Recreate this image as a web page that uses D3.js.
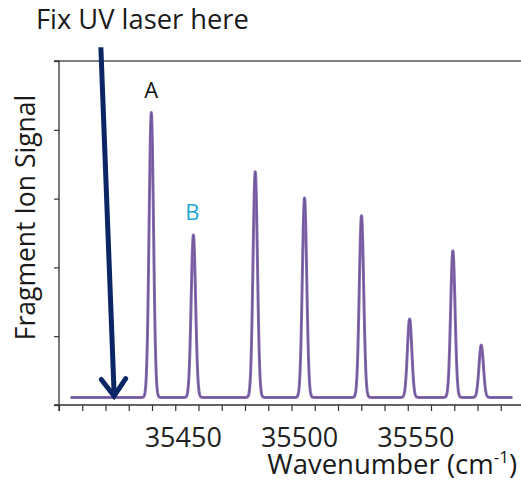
<!DOCTYPE html>
<html>
<head>
<meta charset="utf-8">
<script src="https://cdn.jsdelivr.net/npm/d3@7"></script>
<style>
  html, body { margin: 0; padding: 0; background: #fff; }
  svg { display: block; }
  text { font-family: "Open Sans", "Segoe UI", sans-serif; }
</style>
</head>
<body>
<svg id="chart" width="521" height="483"></svg>
<script>
// ---- data ----
const peakCenters = [35439.7, 35457.8, 35484.4, 35505.6, 35530.1, 35550.8, 35569.4, 35581.6];
const peakHeights = [4.25, 2.47, 3.39, 3.01, 2.75, 1.25, 2.24, 0.87];
const baselineLevel = 0.11;
const peakSigma = 0.95;
const spectrumRange = [35405, 35595];
const xTickLabels = [35450, 35500, 35550];
const yTickValues = [0, 1, 2, 3, 4, 5];
const peakLabels = [{ text: "A", peak: 0, color: "#111" }, { text: "B", peak: 1, color: "#22a6d3" }];
const arrowFrom = [35418.0, 5.2];
const arrowTo = [35423.7, 0.13];

const svg = d3.select("#chart");
const x = d3.scaleLinear().domain([35400, 35600]).range([59, 524]);
const y = d3.scaleLinear().domain([0, 5]).range([405, 61]);
const xEnd = 521;

// spectrum profile from peak list
const step = 0.1;
const pts = [];
for (let w = spectrumRange[0]; w <= spectrumRange[1] + 1e-9; w += step) {
  let v = baselineLevel;
  peakCenters.forEach((c, i) => {
    const d = (w - c) / peakSigma;
    v += (peakHeights[i] - baselineLevel) * Math.exp(-0.5 * d * d);
  });
  pts.push([w, v]);
}

// top border
svg.append("line")
  .attr("x1", x(35400)).attr("x2", xEnd)
  .attr("y1", y(5)).attr("y2", y(5))
  .attr("stroke", "#555").attr("stroke-width", 1.5);

// y axis
const yAxis = d3.axisLeft(y).tickValues(yTickValues).tickSize(5).tickFormat("");
const gy = svg.append("g").attr("transform", `translate(${x(35400)},0)`).call(yAxis);
gy.select(".domain").attr("stroke", "#333").attr("stroke-width", 1.3).attr("d", `M-5,${y(5)}H0V${y(0)}H-5`);
gy.selectAll(".tick line").attr("stroke", "#333").attr("stroke-width", 1.2);

// x axis
const xTicks = d3.range(35400, 35600, 10);
const xAxis = d3.axisBottom(x).tickValues(xTicks).tickSize(6).tickFormat("");
const gx = svg.append("g").attr("transform", `translate(0,${y(0)})`).call(xAxis);
gx.select(".domain").attr("stroke", "#333").attr("stroke-width", 1.3).attr("d", `M${x(35400)},6V0H${xEnd}`);
gx.selectAll(".tick line").attr("stroke", "#333").attr("stroke-width", 1.2);

svg.append("g").selectAll("text").data(xTickLabels).join("text")
  .attr("x", d => x(d) + 8).attr("y", 447)
  .attr("text-anchor", "middle")
  .attr("font-size", 27).attr("fill", "#222")
  .text(d => d);

// spectrum line
const line = d3.line().x(d => x(d[0])).y(d => y(d[1]));
svg.append("path").datum(pts)
  .attr("d", line)
  .attr("fill", "none")
  .attr("stroke", "#8a6fb0").attr("stroke-width", 3).attr("stroke-linejoin", "round");
svg.append("path").datum(pts)
  .attr("d", line)
  .attr("fill", "none")
  .attr("stroke", "#6f559a").attr("stroke-width", 1.2).attr("stroke-linejoin", "round");

// peak labels
svg.append("g").selectAll("text").data(peakLabels).join("text")
  .attr("x", d => x(peakCenters[d.peak]) + (d.peak === 1 ? -1 : 0))
  .attr("y", d => d.peak === 0 ? 98 : 220)
  .attr("text-anchor", "middle")
  .attr("font-size", 22).attr("fill", d => d.color)
  .text(d => d.text);

// arrow
const ax1 = x(arrowFrom[0]), ay1 = y(arrowFrom[1]);
const ax2 = x(arrowTo[0]), ay2 = y(arrowTo[1]);
svg.append("line")
  .attr("x1", ax1).attr("y1", ay1).attr("x2", ax2).attr("y2", ay2 - 3)
  .attr("stroke", "#0b2565").attr("stroke-width", 5);
const ang = Math.atan2(ay2 - ay1, ax2 - ax1);
const headLen = 21, headAng = 0.62;
const p1 = [ax2 - headLen * Math.cos(ang - headAng), ay2 - headLen * Math.sin(ang - headAng)];
const p2 = [ax2 - headLen * Math.cos(ang + headAng), ay2 - headLen * Math.sin(ang + headAng)];
svg.append("path")
  .attr("d", `M${p1[0]},${p1[1]}L${ax2},${ay2}L${p2[0]},${p2[1]}`)
  .attr("fill", "none").attr("stroke", "#0b2565").attr("stroke-width", 5)
  .attr("stroke-linejoin", "miter").attr("stroke-linecap", "round");

// titles
svg.append("text")
  .attr("x", 36).attr("y", 29)
  .attr("font-size", 27.3).attr("fill", "#1a1a1a")
  .text("Fix UV laser here");

const xt = svg.append("text")
  .attr("x", 517).attr("y", 474)
  .attr("text-anchor", "end")
  .attr("font-size", 27.5).attr("fill", "#1a1a1a");
xt.append("tspan").text("Wavenumber (cm");
xt.append("tspan").attr("font-size", 17).attr("dy", -11).text("-1");
xt.append("tspan").attr("dy", 11).text(")");

svg.append("text")
  .attr("transform", `translate(35,217.5) rotate(-90)`)
  .attr("text-anchor", "middle")
  .attr("font-size", 26.5).attr("fill", "#1a1a1a")
  .text("Fragment Ion Signal");
</script>
</body>
</html>
